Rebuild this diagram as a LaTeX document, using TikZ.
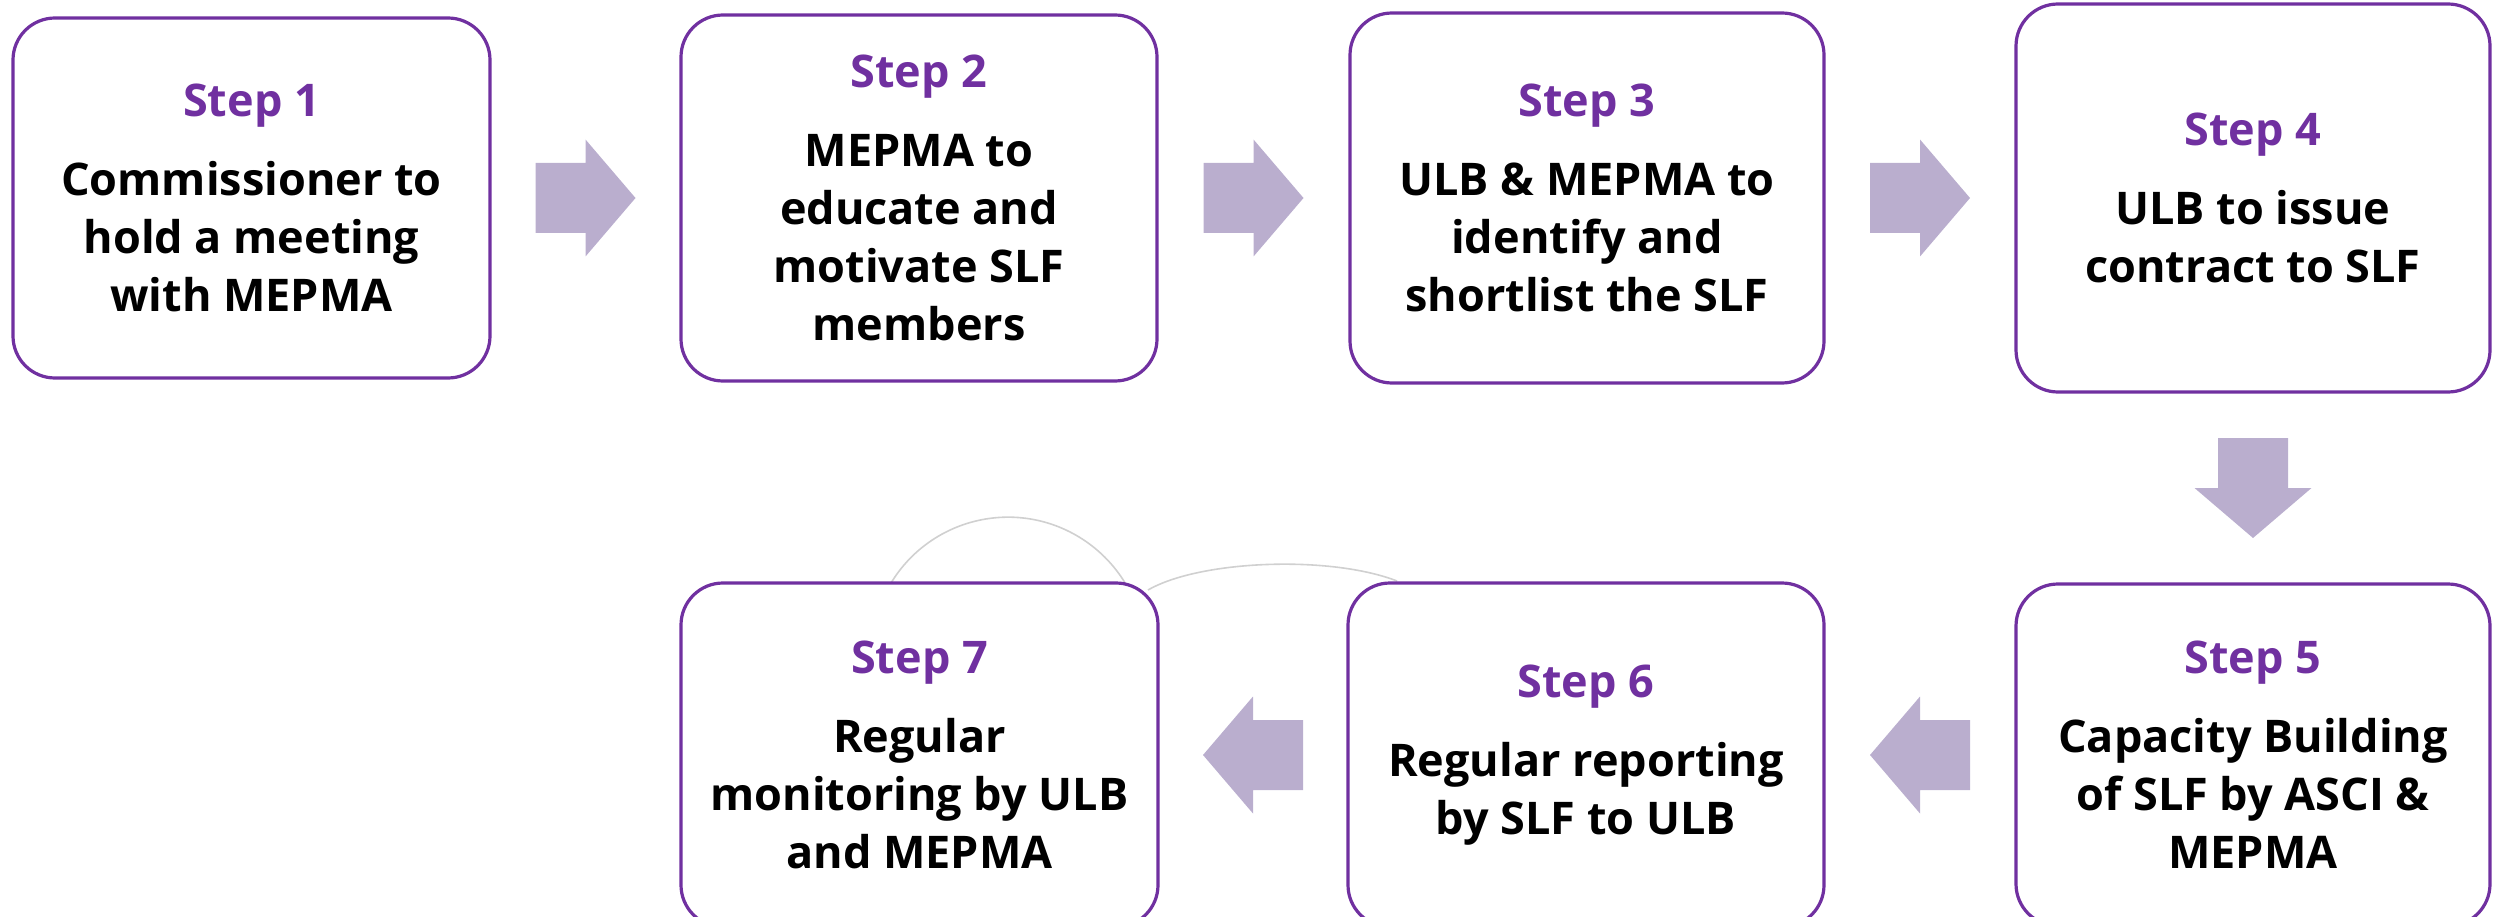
\documentclass[tikz,border=0pt]{standalone}
\usepackage{fontspec}
\setmainfont{Open Sans}
\usetikzlibrary{calc}
\definecolor{purp}{HTML}{7030A0}
\definecolor{arrowfill}{RGB}{186,174,206}
\definecolor{arcgray}{RGB}{208,208,208}
\tikzset{
  stepbox/.style={draw=purp, line width=3.2pt, rounded corners=42pt, fill=white,
    align=center, inner sep=0pt, font=\bfseries\fontsize{45}{58}\selectfont},
  blockarrow/.pic={\fill[arrowfill] (-50,-35) -- (0,-35) -- (0,-58.5) -- (50,0)
    -- (0,58.5) -- (0,35) -- (-50,35) -- cycle;},
  faintarc/.style={draw=arcgray, line width=1.6pt}
}
\newcommand{\stp}[1]{{\color{purp}Step #1}\\[21pt]}
\begin{document}
\begin{tikzpicture}[x=1pt,y=-1pt]
\useasboundingbox (0,0) rectangle (2493,917);
\clip (0,0) rectangle (2493,917);
% faint arcs behind the boxes
\draw[faintarc] (891,583) arc[start angle=-148.7, end angle=-31.3, radius=137];
\draw[faintarc] (1148,590) .. controls (1200,560) and (1330,555) .. (1397,581);
% boxes
\node[stepbox, minimum width=477pt, minimum height=360pt] (s1) at (251.5,198)
  {\stp{1}Commissioner to\\hold a meeting\\with MEPMA};
\node[stepbox, minimum width=476pt, minimum height=366pt] (s2) at (919,198)
  {\stp{2}MEPMA to\\educate and\\motivate SLF\\members};
\node[stepbox, minimum width=474pt, minimum height=370pt] (s3) at (1587,198)
  {\stp{3}ULB \& MEPMA to\\identify and\\shortlist the SLF};
\node[stepbox, minimum width=474pt, minimum height=388pt] (s4) at (2253,198)
  {\stp{4}ULB to issue\\contract to SLF};
\node[stepbox, minimum width=474pt, minimum height=342pt] (s5) at (2253,755)
  {\stp{5}Capacity Building\\of SLF by ASCI \&\\MEPMA};
\node[stepbox, minimum width=476pt, minimum height=344pt] (s6) at (1586,755)
  {\stp{6}Regular reporting\\by SLF to ULB};
\node[stepbox, minimum width=477pt, minimum height=344pt] (s7) at (919.5,755)
  {\stp{7}Regular\\monitoring by ULB\\and MEPMA};
% block arrows
\pic at ($(s1.east)!0.5!(s2.west)$) {blockarrow};
\pic at ($(s2.east)!0.5!(s3.west)$) {blockarrow};
\pic at ($(s3.east)!0.5!(s4.west)$) {blockarrow};
\pic[rotate=-90] at ($(s4.south)!0.5!(s5.north)$) {blockarrow};
\pic[rotate=180] at ($(s5.west)!0.5!(s6.east)$) {blockarrow};
\pic[rotate=180] at ($(s6.west)!0.5!(s7.east)$) {blockarrow};
\end{tikzpicture}
\end{document}
